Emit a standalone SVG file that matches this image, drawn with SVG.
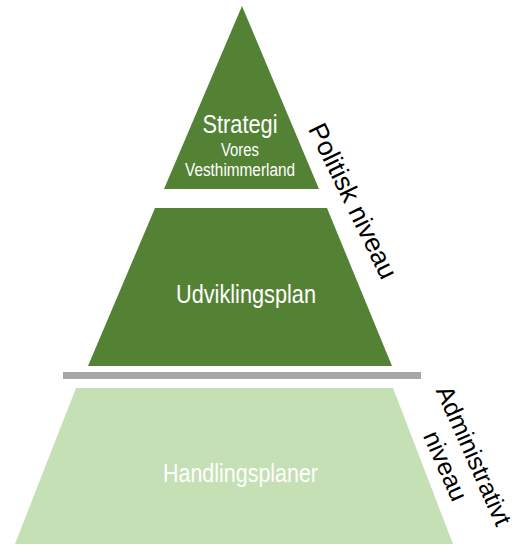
<svg xmlns="http://www.w3.org/2000/svg" width="518" height="557" viewBox="0 0 518 557">
<style>
.dark{fill:#548235}
.light{fill:#C5E0B4}
.bar{fill:#A6A6A6}
.in{font-family:"Liberation Sans",Arial,sans-serif;fill:#ffffff;text-anchor:middle}
.side{font-family:"Liberation Sans",Arial,sans-serif;fill:#000000;text-anchor:middle}
</style>
<rect width="518" height="557" fill="#ffffff"/>
<g id="strategi">
<polygon class="dark" points="242,6 319,189 164,189"/>
<text class="in" x="240" y="133" font-size="25" textLength="75" lengthAdjust="spacingAndGlyphs">Strategi</text>
<text class="in" x="240" y="156" font-size="18" textLength="38" lengthAdjust="spacingAndGlyphs">Vores</text>
<text class="in" x="240" y="176" font-size="18" textLength="110" lengthAdjust="spacingAndGlyphs">Vesthimmerland</text>
</g>
<g id="udviklingsplan">
<polygon class="dark" points="155,208 327,208 392,366 88,366"/>
<text class="in" x="246" y="303" font-size="25" textLength="140" lengthAdjust="spacingAndGlyphs">Udviklingsplan</text>
</g>
<g id="separator">
<rect class="bar" x="63" y="372" width="358" height="7"/>
</g>
<g id="handlingsplaner">
<polygon class="light" points="76,388 393,388 453,544 15,544"/>
<text class="in" x="240.5" y="482" font-size="25" textLength="155" lengthAdjust="spacingAndGlyphs">Handlingsplaner</text>
</g>
<g id="politisk">
<text class="side" font-size="26.5" transform="translate(353,201) rotate(64)" x="0" y="9">Politisk niveau</text>
</g>
<g id="administrativt">
<text class="side" font-size="25" transform="translate(466,459) rotate(66)" x="0" y="0">Administrativt</text>
<text class="side" font-size="25" transform="translate(466,459) rotate(66)" x="-2" y="30">niveau</text>
</g>
</svg>
